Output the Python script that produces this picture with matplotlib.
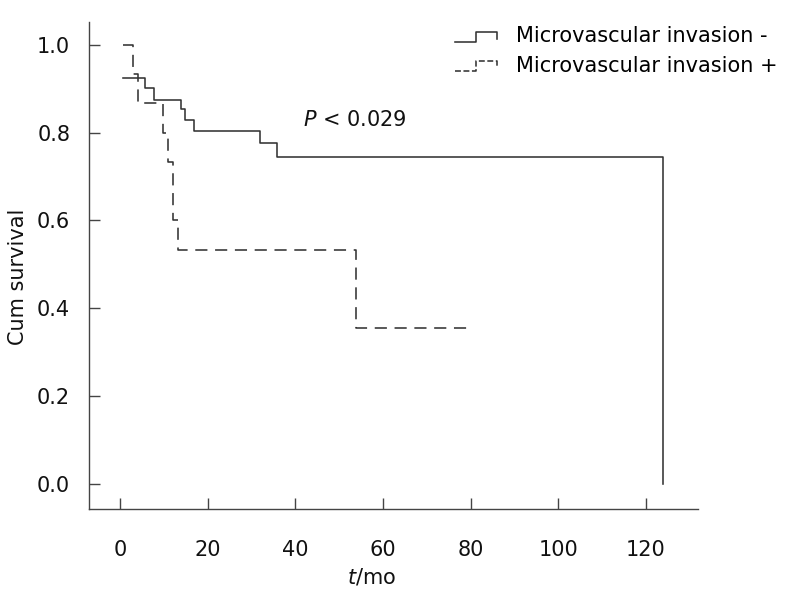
import matplotlib
matplotlib.use('Agg')
import matplotlib.pyplot as plt
from matplotlib.lines import Line2D
from matplotlib.legend_handler import HandlerBase

plt.rcParams['mathtext.fontset'] = 'dejavusans'

# Kaplan-Meier curves (time in months, cum survival)
t_neg = [0.75, 5.7, 7.8, 13.9, 14.8, 16.9, 31.9, 35.9, 123.9, 123.9]
s_neg = [0.925, 0.902, 0.875, 0.853, 0.828, 0.804, 0.777, 0.745, 0.745, 0.0]

t_pos = [0.75, 3.0, 4.0, 9.9, 11.0, 12.0, 13.1, 53.8, 79.9]
s_pos = [1.0, 0.933, 0.867, 0.800, 0.733, 0.600, 0.533, 0.356, 0.356]

labels = ['Microvascular invasion -', 'Microvascular invasion +']
xticks = [0, 20, 40, 60, 80, 100, 120]
yticks = [0.0, 0.2, 0.4, 0.6, 0.8, 1.0]

LC = '#333333'
DASH = (0, (7.6, 4.8))
FS = 15


class StepHandler(HandlerBase):
    # legend key drawn as a little step like in the original
    def create_artists(self, legend, orig, xdescent, ydescent, width, height,
                       fontsize, trans):
        x0 = -xdescent
        yc = -ydescent + height / 2
        lo, hi, end = yc - 5.0, yc + 2.2, yc - 2.8
        xs = [x0, x0 + 0.5 * width, x0 + 0.5 * width, x0 + width, x0 + width]
        ys = [lo, lo, hi, hi, end]
        ln = Line2D(xs, ys, color=orig.get_color(), lw=orig.get_linewidth(),
                    linestyle=orig.get_linestyle(), transform=trans)
        return [ln]


fig = plt.figure(figsize=(7.87, 6.01), dpi=100)
ax = fig.add_axes([89 / 787, 1 - 509 / 601, 609 / 787, 487.3 / 601])

l1, = ax.step(t_neg, s_neg, where='post', color=LC, lw=1.15)
l2, = ax.step(t_pos, s_pos, where='post', color=LC, lw=1.15, linestyle=DASH)

ax.set_xlim(-7.1, 131.9)
ax.set_ylim(-0.056, 1.052)
ax.set_xticks(xticks)
ax.set_yticks(yticks)
ax.set_yticklabels(['%.1f' % v for v in yticks])

for side in ['top', 'right']:
    ax.spines[side].set_visible(False)
for side in ['left', 'bottom']:
    ax.spines[side].set_color('#444444')
    ax.spines[side].set_linewidth(1.0)

ax.tick_params(axis='x', direction='in', length=7.9, width=1.0, color='#444444',
               pad=22, labelsize=FS, labelcolor='#111111')
ax.tick_params(axis='y', direction='in', length=7.9, width=1.0, color='#444444',
               pad=13.5, labelsize=FS, labelcolor='#111111')

ax.text(0.4647, (509 - 577) / 487.3, r'$\it{t}$/mo', transform=ax.transAxes,
        ha='center', va='center', fontsize=FS, color='#111111')
ax.text((18 - 89) / 609, 0.477, 'Cum survival', transform=ax.transAxes,
        rotation=90, ha='center', va='center', fontsize=FS, color='#111111')

ax.text(41.8, 0.828, r'$\it{P}$ < 0.029', ha='left', va='center',
        fontsize=FS, color='#111111')

fig.legend([l1, l2], labels, loc='upper left',
           bbox_to_anchor=(455 / 787, 1 - 26 / 601),
           frameon=False, fontsize=FS, borderpad=0, borderaxespad=0,
           handlelength=2.0, handletextpad=0.95, labelspacing=0.47,
           handler_map={Line2D: StepHandler()})

fig.savefig('out.png', dpi=100)
